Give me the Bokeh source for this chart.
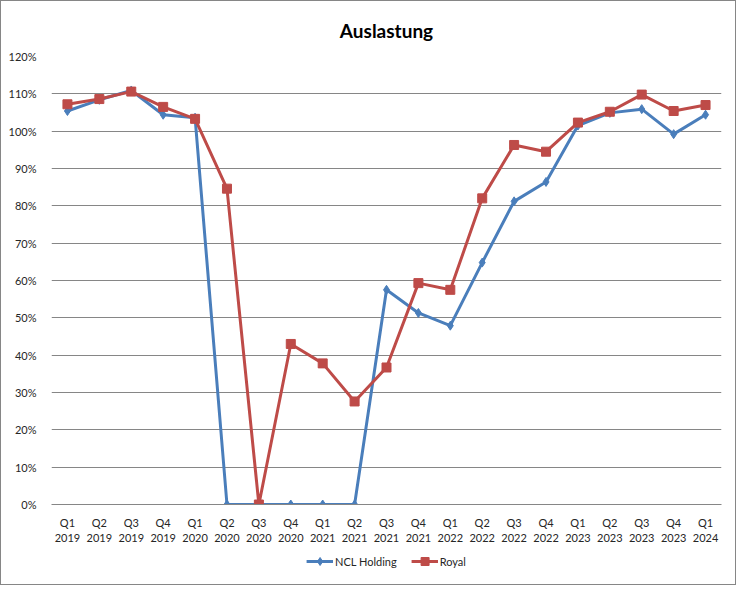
from bokeh.plotting import figure
from bokeh.layouts import column
from bokeh.models import Range1d, FactorRange, NumeralTickFormatter, Legend, LegendItem, FixedTicker
from bokeh.embed import file_html
from bokeh.resources import INLINE

quarters = ["Q1", "Q2", "Q3", "Q4", "Q1", "Q2", "Q3", "Q4", "Q1", "Q2", "Q3",
            "Q4", "Q1", "Q2", "Q3", "Q4", "Q1", "Q2", "Q3", "Q4", "Q1"]
years = ["2019", "2019", "2019", "2019", "2020", "2020", "2020", "2020", "2021", "2021", "2021",
         "2021", "2022", "2022", "2022", "2022", "2023", "2023", "2023", "2023", "2024"]
categories = [q + "\n" + y for q, y in zip(quarters, years)]

ncl = [1.054, 1.084, 1.109, 1.044, 1.036, 0.0, 0.0, 0.0, 0.0, 0.0, 0.575,
       0.513, 0.479, 0.648, 0.812, 0.864, 1.015, 1.049, 1.059, 0.992, 1.044]
royal = [1.072, 1.086, 1.106, 1.065, 1.033, 0.846, 0.0, 0.430, 0.378, 0.276, 0.367,
         0.593, 0.575, 0.820, 0.963, 0.945, 1.023, 1.052, 1.098, 1.054, 1.070]

y_ticks = [0.0, 0.1, 0.2, 0.3, 0.4, 0.5, 0.6, 0.7, 0.8, 0.9, 1.0, 1.1, 1.2]
series_names = ["NCL Holding", "Royal"]

FONT = "Lato"
GRAY = "#868686"
BLUE = "#4a7ebb"
RED = "#be4b48"
TXT = "#262626"

p = figure(width=734, height=550, x_range=FactorRange(factors=categories),
           y_range=Range1d(0, 1.2), output_backend="svg", toolbar_location=None,
           min_border_left=50, min_border_right=14, min_border_top=54, min_border_bottom=47)

p.title.text = "Auslastung"
p.title.align = "center"
p.title.text_font = FONT
p.title.text_font_size = "19px"
p.title.text_font_style = "bold"
p.title.text_color = "#000000"
p.title.standoff = 30

p.outline_line_color = None
p.xgrid.grid_line_color = None
p.ygrid.grid_line_color = GRAY
p.ygrid.grid_line_width = 1

p.yaxis.ticker = FixedTicker(ticks=y_ticks)
p.yaxis.formatter = NumeralTickFormatter(format="0%")
p.yaxis.axis_line_color = None
p.yaxis.major_tick_line_color = None
p.yaxis.minor_tick_line_color = None
p.yaxis.major_label_text_font = FONT
p.yaxis.major_label_text_font_size = "11px"
p.yaxis.major_label_text_color = TXT
p.yaxis.major_label_standoff = 9

p.xaxis.axis_line_color = GRAY
p.xaxis.major_tick_line_color = None
p.xaxis.minor_tick_line_color = None
p.xaxis.major_label_text_font = FONT
p.xaxis.major_label_text_font_size = "11px"
p.xaxis.major_label_text_color = TXT
p.xaxis.major_label_standoff = 5

p.line(categories, ncl, line_color=BLUE, line_width=3)
p.scatter(categories, ncl, marker="diamond", size=9, fill_color=BLUE, line_color=BLUE)
p.line(categories, royal, line_color=RED, line_width=3)
p.scatter(categories, royal, marker="square", size=9, fill_color=RED, line_color=RED)

# legend strip below the chart (series drawn out of view, only their legend shows)
q = figure(width=734, height=33, output_backend="svg", toolbar_location=None,
           x_range=FactorRange(factors=categories), y_range=Range1d(5, 6),
           x_axis_location=None, y_axis_location=None, min_border=0)
q.outline_line_color = None
q.grid.visible = False
ql1 = q.line(categories, ncl, line_color=BLUE, line_width=3)
qs1 = q.scatter(categories, ncl, marker="diamond", size=9, fill_color=BLUE, line_color=BLUE)
ql2 = q.line(categories, royal, line_color=RED, line_width=3)
qs2 = q.scatter(categories, royal, marker="square", size=9, fill_color=RED, line_color=RED)

legend = Legend(items=[LegendItem(label=series_names[0], renderers=[ql1, qs1]),
                       LegendItem(label=series_names[1], renderers=[ql2, qs2])],
                orientation="horizontal", location="top_center")
legend.border_line_color = None
legend.background_fill_alpha = 0
legend.label_text_font = FONT
legend.label_text_font_size = "11px"
legend.label_text_color = TXT
legend.glyph_width = 27
legend.label_standoff = 2
legend.spacing = 14
legend.padding = 2
legend.margin = 0
q.add_layout(legend)

layout = column(p, q, spacing=0, styles={"border": "1px solid " + GRAY})

open("out.html", "w").write(file_html(layout, INLINE))
